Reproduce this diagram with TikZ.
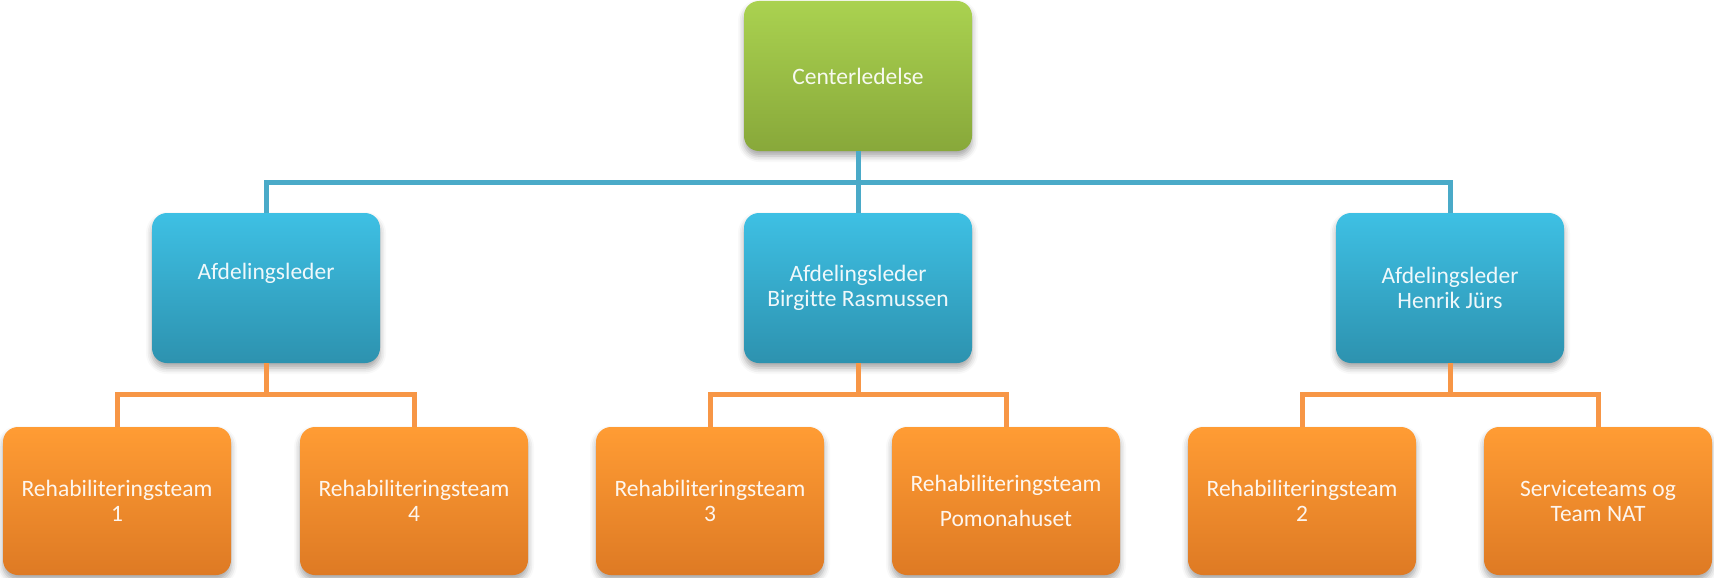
\documentclass[tikz,border=0pt]{standalone}
\usepackage{fontspec}
\setmainfont[Ligatures=NoCommon]{Carlito}
\usetikzlibrary{shadows.blur}

\definecolor{grtop}{RGB}{170,210,80}
\definecolor{grbot}{RGB}{136,168,58}
\definecolor{bltop}{RGB}{62,192,228}
\definecolor{blbot}{RGB}{45,146,175}
\definecolor{ortop}{RGB}{255,156,52}
\definecolor{orbot}{RGB}{222,122,36}
\definecolor{blline}{RGB}{74,170,200}
\definecolor{orline}{RGB}{247,150,70}

\begin{document}
\begin{tikzpicture}[x=1pt, y=-1pt,
  box/.style={rounded corners=15pt, minimum width=228pt, inner sep=0pt, align=center,
    text=white, text opacity=0.92, font=\fontsize{23.5}{25.5}\selectfont,
    blur shadow={shadow xshift=0pt, shadow yshift=-5pt, shadow blur radius=6pt, shadow opacity=35}},
  topbox/.style={box, minimum height=150pt, top color=grtop, bottom color=grbot},
  leadbox/.style={box, minimum height=150pt, top color=bltop, bottom color=blbot},
  teambox/.style={box, minimum height=148pt, top color=ortop, bottom color=orbot},
  blueline/.style={draw=blline, line width=5pt},
  orangeline/.style={draw=orline, line width=5pt}]

\useasboundingbox (0,0) rectangle (1714,578);

\node [topbox] (ctr) at (858,76) {Centerledelse};

\node [leadbox] (lead1) at (266,288) {Afdelingsleder\\\strut};
\node [leadbox] (lead2) at (858,288) {Afdelingsleder\\Birgitte Rasmussen};
\node [leadbox] (lead3) at (1450,288) {Afdelingsleder\\Henrik Jürs};

\node [teambox] (team1) at (117,501) {Rehabiliteringsteam\\1};
\node [teambox] (team4) at (414,501) {Rehabiliteringsteam\\4};
\node [teambox] (team3) at (710,501) {Rehabiliteringsteam\\3};
\node [teambox] (teamp) at (1006,501) {Rehabiliteringsteam\\[10pt]Pomonahuset};
\node [teambox] (team2) at (1302,501) {Rehabiliteringsteam\\2};
\node [teambox] (teamn) at (1598,501) {Serviceteams og\\Team NAT};

\coordinate (bmid) at (858,182);
\draw [blueline] (ctr.south) -- (bmid) -| (lead1.north);
\draw [blueline] (bmid) -| (lead3.north);
\draw [blueline] (bmid) -- (lead2.north);

\coordinate (omid1) at (266,394);
\coordinate (omid2) at (858,394);
\coordinate (omid3) at (1450,394);
\draw [orangeline] (lead1.south) -- (omid1) -| (team1.north);
\draw [orangeline] (omid1) -| (team4.north);
\draw [orangeline] (lead2.south) -- (omid2) -| (team3.north);
\draw [orangeline] (omid2) -| (teamp.north);
\draw [orangeline] (lead3.south) -- (omid3) -| (team2.north);
\draw [orangeline] (omid3) -| (teamn.north);

\end{tikzpicture}
\end{document}
